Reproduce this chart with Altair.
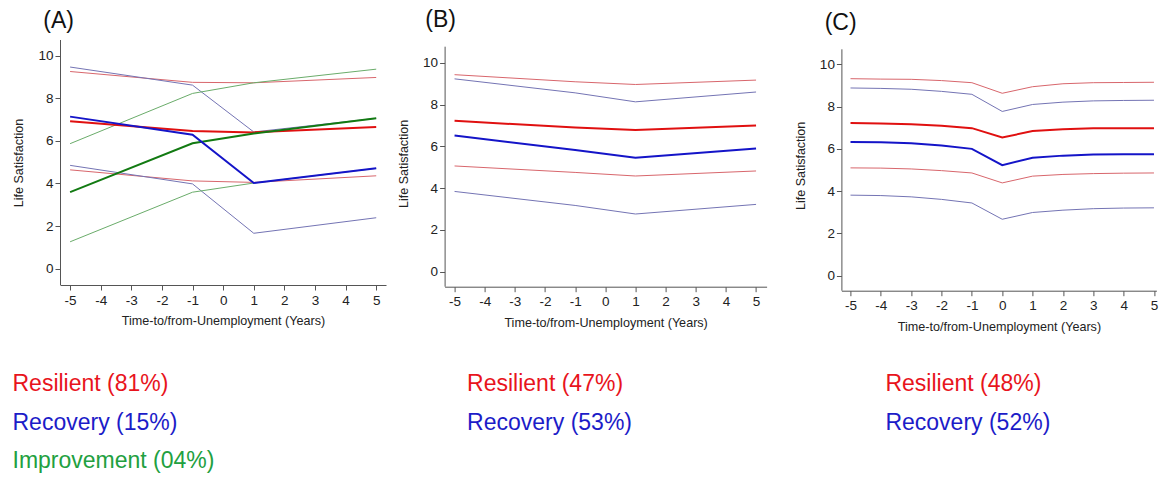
import altair as alt
import pandas as pd

# ---------------- data ----------------
# Panel A (three classes)
A_X = [-5, -1, 1, 5]
A_RES_HI = [9.26, 8.75, 8.73, 8.98]
A_RES_MID = [6.92, 6.46, 6.40, 6.65]
A_RES_LO = [4.64, 4.12, 4.05, 4.36]
A_REC_HI = [9.47, 8.62, 6.42, 7.06]
A_REC_MID = [7.14, 6.29, 4.02, 4.71]
A_REC_LO = [4.85, 3.98, 1.66, 2.39]
A_IMP_HI = [5.87, 8.23, 8.73, 9.37]
A_IMP_MID = [3.59, 5.89, 6.35, 7.06]
A_IMP_LO = [1.26, 3.59, 4.02, 4.71]

# Panel B (two classes)
B_X = [-5, -1, 1, 5]
B_RES_HI = [9.43, 9.09, 8.96, 9.17]
B_RES_MID = [7.22, 6.90, 6.78, 7.00]
B_RES_LO = [5.06, 4.75, 4.58, 4.82]
B_REC_HI = [9.23, 8.56, 8.13, 8.60]
B_REC_MID = [6.52, 5.82, 5.45, 5.90]
B_REC_LO = [3.84, 3.17, 2.76, 3.22]

# Panel C (two classes)
C_X = [-5, -4, -3, -2, -1, 0, 1, 2, 3, 4, 5]
C_RES_HI = [9.32, 9.30, 9.29, 9.23, 9.13, 8.63, 8.94, 9.08, 9.13, 9.14, 9.15]
C_RES_MID = [7.22, 7.20, 7.16, 7.09, 6.98, 6.54, 6.84, 6.93, 6.97, 6.98, 6.98]
C_RES_LO = [5.10, 5.09, 5.05, 4.97, 4.86, 4.39, 4.71, 4.79, 4.83, 4.85, 4.86]
C_REC_HI = [8.88, 8.86, 8.82, 8.72, 8.58, 7.77, 8.10, 8.21, 8.27, 8.29, 8.30]
C_REC_MID = [6.32, 6.31, 6.27, 6.16, 6.00, 5.23, 5.58, 5.68, 5.73, 5.75, 5.75]
C_REC_LO = [3.81, 3.79, 3.73, 3.61, 3.44, 2.67, 2.99, 3.10, 3.17, 3.20, 3.21]

PANEL_TITLES = ["(A)", "(B)", "(C)"]
LEGEND_A = ["Resilient (81%)", "Recovery (15%)", "Improvement (04%)"]
LEGEND_B = ["Resilient (47%)", "Recovery (53%)"]
LEGEND_C = ["Resilient (48%)", "Recovery (52%)"]

X_TICKS = [-5, -4, -3, -2, -1, 0, 1, 2, 3, 4, 5]
Y_TICKS = [0, 2, 4, 6, 8, 10]

# ---------------- styles ----------------
FONT = "Liberation Sans"
RED, RED_T = "#e01010", "#d8666c"
BLUE, BLUE_T = "#1414c8", "#7474b4"
GREEN, GREEN_T = "#127a12", "#6aac6a"
TXT_RED, TXT_BLUE, TXT_GREEN = "#e8141c", "#1c1cc8", "#22a040"
AX = "#555555"
PLAIN_LABEL = "'' + datum.value"  # hyphen-minus like the original


def axis_x():
    return alt.Axis(values=X_TICKS, title="Time-to/from-Unemployment (Years)", grid=False,
                    domainColor=AX, tickColor=AX, tickSize=5, labelPadding=3,
                    labelFont=FONT, labelFontSize=13.5, labelColor="#222",
                    labelExpr=PLAIN_LABEL,
                    titleFont=FONT, titleFontSize=12.6, titleFontWeight="normal",
                    titleColor="#222", titlePadding=8, labelFlush=False)


def axis_y():
    return alt.Axis(values=Y_TICKS, title="Life Satisfaction", grid=False, domain=False,
                    tickColor=AX, tickSize=5, labelPadding=2,
                    labelFont=FONT, labelFontSize=13.5, labelColor="#222",
                    labelExpr=PLAIN_LABEL,
                    titleFont=FONT, titleFontSize=12.5, titleFontWeight="normal",
                    titleColor="#222", titlePadding=12, labelFlush=False)


def line(xs, ys, color, width, xdom, ydom):
    df = pd.DataFrame({"x": xs, "y": ys})
    return alt.Chart(df).mark_line(color=color, strokeWidth=width).encode(
        x=alt.X("x:Q", scale=alt.Scale(domain=xdom, nice=False, zero=False), axis=axis_x()),
        y=alt.Y("y:Q", scale=alt.Scale(domain=ydom, nice=False, zero=False), axis=axis_y()),
    )


def texts(labels, colors, px, py0, step, size):
    layers = []
    for i, (lab, col) in enumerate(zip(labels, colors)):
        df = pd.DataFrame({"t": [lab]})
        layers.append(
            alt.Chart(df).mark_text(align="left", baseline="alphabetic", font=FONT,
                                    fontSize=size, color=col).encode(
                x=alt.value(px), y=alt.value(py0 + i * step), text="t:N")
        )
    return layers


def y_domain_line(top, height):
    return alt.Chart(pd.DataFrame({"d": [0]})).mark_rule(color=AX, strokeWidth=1).encode(
        x=alt.value(0.5), y=alt.value(top), y2=alt.value(height))


# ---------------- panel A ----------------
xa, ya = [-5.33, 5.32], [-0.77, 10.74]
ha = 245
a_layers = [
    line(A_X, A_RES_HI, RED_T, 1, xa, ya), line(A_X, A_RES_LO, RED_T, 1, xa, ya),
    line(A_X, A_REC_HI, BLUE_T, 1, xa, ya), line(A_X, A_REC_LO, BLUE_T, 1, xa, ya),
    line(A_X, A_IMP_HI, GREEN_T, 1, xa, ya), line(A_X, A_IMP_LO, GREEN_T, 1, xa, ya),
    line(A_X, A_RES_MID, RED, 2, xa, ya), line(A_X, A_IMP_MID, GREEN, 2, xa, ya),
    line(A_X, A_REC_MID, BLUE, 2, xa, ya),
    y_domain_line(0, ha),
]
a_layers += texts([PANEL_TITLES[0]], ["#111"], -16.7, -12, 0, 23)
a_layers += texts(LEGEND_A, [TXT_RED, TXT_BLUE, TXT_GREEN], -47.5, 351, 38.5, 23)
panel_a = alt.layer(*a_layers).properties(width=326, height=ha)

# ---------------- panel B ----------------
xb, yb = [-5.33, 5.35], [-0.72, 11.09]
hb = 246.7
b_layers = [
    line(B_X, B_RES_HI, RED_T, 1, xb, yb), line(B_X, B_RES_LO, RED_T, 1, xb, yb),
    line(B_X, B_REC_HI, BLUE_T, 1, xb, yb), line(B_X, B_REC_LO, BLUE_T, 1, xb, yb),
    line(B_X, B_RES_MID, RED, 2, xb, yb), line(B_X, B_REC_MID, BLUE, 2, xb, yb),
    y_domain_line(6.7, hb),
]
b_layers += texts([PANEL_TITLES[1]], ["#111"], -19.3, -13, 0, 23)
b_layers += texts(LEGEND_B, [TXT_RED, TXT_BLUE], 22.5, 351, 38.5, 23)
panel_b = alt.layer(*b_layers).properties(width=322, height=hb)

# ---------------- panel C ----------------
xc, yc = [-5.30, 5.08], [-0.71, 11.15]
hc = 250.7
c_layers = [
    line(C_X, C_RES_HI, RED_T, 1, xc, yc), line(C_X, C_RES_LO, RED_T, 1, xc, yc),
    line(C_X, C_REC_HI, BLUE_T, 1, xc, yc), line(C_X, C_REC_LO, BLUE_T, 1, xc, yc),
    line(C_X, C_RES_MID, RED, 2, xc, yc), line(C_X, C_REC_MID, BLUE, 2, xc, yc),
    y_domain_line(9.3, hc),
]
c_layers += texts([PANEL_TITLES[2]], ["#111"], -16.7, -10, 0, 23)
c_layers += texts(LEGEND_C, [TXT_RED, TXT_BLUE], 44, 351, 38.5, 23)
panel_c = alt.layer(*c_layers).properties(width=315, height=hc)

chart = alt.hconcat(
    alt.hconcat(panel_a, panel_b, spacing=10.6), panel_c, spacing=26.4
).properties(
    padding={"left": 12, "top": 9, "right": 2, "bottom": 2}, background="white"
).configure_view(stroke=None)

chart.save("out.html", embed_options={"renderer": "svg", "actions": False})
